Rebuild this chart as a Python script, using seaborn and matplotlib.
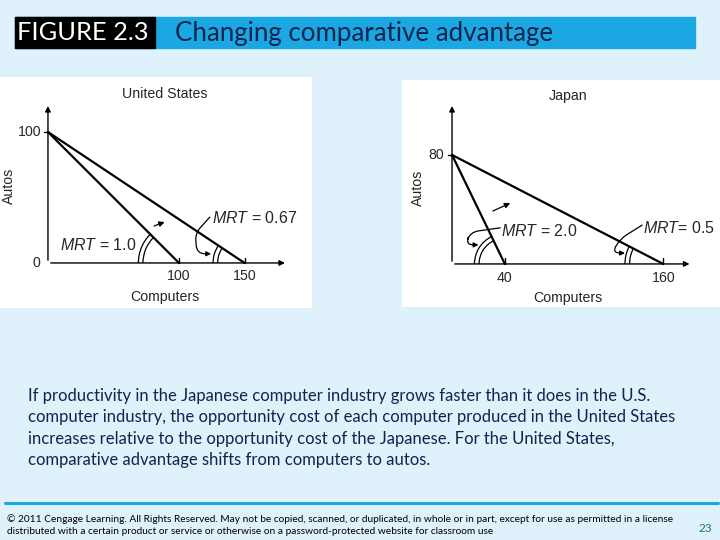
import numpy as np
import pandas as pd
import matplotlib
matplotlib.use("Agg")
import matplotlib.pyplot as plt
from matplotlib.patches import Arc, Rectangle
import seaborn as sns

# data
us_autos = 100
us_computers = [100, 150]          # old, new intercept
us_mrt = ["1.0", "0.67"]
jp_autos = 80
jp_computers = [40, 160]
jp_mrt = ["2.0", "0.5"]

title = "Changing comparative advantage"
fig_label = "FIGURE 2.3"
body = ("If productivity in the Japanese computer industry grows faster than it does in the U.S.\n"
        "computer industry, the opportunity cost of each computer produced in the United States\n"
        "increases relative to the opportunity cost of the Japanese. For the United States,\n"
        "comparative advantage shifts from computers to autos.")
footer = ("© 2011 Cengage Learning. All Rights Reserved. May not be copied, scanned, or duplicated, in whole or in part, except for use as permitted in a license\n"
          "distributed with a certain product or service or otherwise on a password-protected website for classroom use")
page_no = "23"

sns.set_theme(style="white")
plt.rcParams["font.family"] = ["Liberation Sans", "DejaVu Sans"]
plt.rcParams["mathtext.fontset"] = "custom"
plt.rcParams["mathtext.it"] = "Liberation Sans:italic"
plt.rcParams["mathtext.rm"] = "Liberation Sans"

BG = "#DFF1FB"
BAR = "#1BA8E2"
NAVY = "#10244F"
LATO = ["Lato", "DejaVu Sans"]

fig = plt.figure(figsize=(7.2, 5.4), dpi=100)
fig.patch.set_facecolor(BG)

# title bar
fig.patches.append(Rectangle((15 / 720, 1 - 48 / 540), 680 / 720, 31 / 540,
                             transform=fig.transFigure, color=BAR, zorder=0))
fig.patches.append(Rectangle((15 / 720, 1 - 48 / 540), 140 / 720, 31 / 540,
                             transform=fig.transFigure, color="black", zorder=1))
fig.text(17 / 720, 1 - 33 / 540, fig_label, color="white", fontsize=18.3,
         family=LATO, va="center", ha="left")
fig.text(175 / 720, 1 - 33 / 540, title, color=NAVY, fontsize=18.6,
         family=LATO, va="center", ha="left")


def panel(rect, xlim, ylim, autos, comps):
    ax = fig.add_axes(rect)
    ax.set_facecolor("white")
    ax.set_xlim(*xlim)
    ax.set_ylim(*ylim)
    for s in ax.spines.values():
        s.set_visible(False)
    ax.set_xticks([])
    ax.set_yticks([])
    for c in comps:
        df = pd.DataFrame({"computers": [0, c], "autos": [autos, 0]})
        sns.lineplot(data=df, x="computers", y="autos", color="black",
                     linewidth=1.6, ax=ax, legend=False)
    ax.set_xlabel("")
    ax.set_ylabel("")
    return ax


def axes_arrows(ax, xend, ytop):
    ax.annotate("", xy=(xend, 0), xytext=(0, 0),
                arrowprops=dict(arrowstyle="-|>", color="black", lw=1, mutation_scale=8))
    ax.annotate("", xy=(0, ytop), xytext=(0, 0),
                arrowprops=dict(arrowstyle="-|>", color="black", lw=1, mutation_scale=8))


def double_arc(ax, x0, autos, r, ratio):
    ang = 180 - np.degrees(np.arctan(autos / x0 * ratio))
    for rr in (r, r - 3.5):
        ax.add_patch(Arc((x0, 0), 2 * rr, 2 * rr / ratio, theta1=ang, theta2=180,
                         color="black", lw=0.9))


def curved(ax, tip, start, armA, armB, angA=180, rad=5):
    ax.annotate("", xy=tip, xytext=start,
                arrowprops=dict(arrowstyle="-|>", color="black", lw=0.9, mutation_scale=7,
                                shrinkA=0, shrinkB=0,
                                connectionstyle=f"arc,angleA={angA},angleB=180,"
                                                f"armA={armA},armB={armB},rad={rad}"))


fs = 10.2
mfs = 11.5
# ---- United States ----
ax1 = panel([0, (540 - 308) / 540, 312 / 720, 231 / 540], (-36.6, 201.5), (-34.4, 142),
            us_autos, us_computers)
axes_arrows(ax1, 183, 122)
ax1.plot([0, -3], [us_autos, us_autos], color="black", lw=1)
for c in us_computers:
    ax1.plot([c, c], [0, 4], color="black", lw=1)
    ax1.text(c, -10, str(c), ha="center", va="center", fontsize=fs)
ax1.text(-5, us_autos, str(us_autos), ha="right", va="center", fontsize=fs)
ax1.text(-6, 0, "0", ha="right", va="center", fontsize=fs)
ax1.text(89, 129, "United States", ha="center", va="center", fontsize=fs)
ax1.text(89, -26, "Computers", ha="center", va="center", fontsize=fs)
ax1.text(-30, 59, "Autos", ha="center", va="center", rotation=90, fontsize=fs)
double_arc(ax1, us_computers[0], us_autos, 31, 1.0)
double_arc(ax1, us_computers[1], us_autos, 24, 1.0)
ax1.text(9, 14, "$MRT$ = " + us_mrt[0], ha="left", va="center", fontsize=mfs)
ax1.text(125, 34, "$MRT$ = " + us_mrt[1], ha="left", va="center", fontsize=mfs)
ax1.annotate("", xy=(91, 32), xytext=(79, 27.5),
             arrowprops=dict(arrowstyle="-|>", color="black", lw=0.9, mutation_scale=8))
curved(ax1, (124.5, 7), (123.5, 35), armA=22, armB=14, angA=228, rad=8)

# ---- Japan ----
ax2 = panel([402 / 720, (540 - 307) / 540, 318 / 720, 227 / 540], (-37.9, 203), (-31.6, 135),
            jp_autos, jp_computers)
axes_arrows(ax2, 182, 118)
ratio2 = 1.3625 / 1.32
ax2.plot([0, -3], [jp_autos, jp_autos], color="black", lw=1)
for c in jp_computers:
    ax2.plot([c, c], [0, 4], color="black", lw=1)
    ax2.text(c, -10, str(c), ha="center", va="center", fontsize=fs)
ax2.text(-6, jp_autos, str(jp_autos), ha="right", va="center", fontsize=fs)
ax2.text(88, 123, "Japan", ha="center", va="center", fontsize=fs)
ax2.text(88, -25, "Computers", ha="center", va="center", fontsize=fs)
ax2.text(-26, 56, "Autos", ha="center", va="center", rotation=90, fontsize=fs)
double_arc(ax2, jp_computers[0], jp_autos, 23, ratio2)
double_arc(ax2, jp_computers[1], jp_autos, 29, ratio2)
ax2.text(37, 24, "$MRT$ = " + jp_mrt[0], ha="left", va="center", fontsize=mfs)
ax2.text(144.5, 26.5, "$MRT$= " + jp_mrt[1], ha="left", va="center", fontsize=mfs)
ax2.annotate("", xy=(46, 45.5), xytext=(29, 38),
             arrowprops=dict(arrowstyle="-|>", color="black", lw=0.9, mutation_scale=8))
curved(ax2, (20, 14), (36.5, 26.5), armA=30, armB=13, angA=188, rad=8)
curved(ax2, (131, 8), (144, 28.5), armA=26, armB=13, angA=212, rad=8)

# body text
fig.text(28 / 720, 1 - 388 / 540, body, color=NAVY, fontsize=12,
         family=LATO, va="top", ha="left", linespacing=1.41)

# footer
fig.add_artist(plt.Line2D([5 / 720, 718 / 720], [1 - 503 / 540, 1 - 503 / 540],
                          transform=fig.transFigure, color=BAR, lw=2.2))
fig.text(7 / 720, 1 - 514 / 540, footer, color="black", fontsize=7.3,
         family=LATO, va="top", ha="left", linespacing=1.5)
fig.text(705 / 720, 1 - 529 / 540, page_no, color="#1F6E8C", fontsize=8.5,
         family=LATO, va="center", ha="center")

fig.savefig("out.png", dpi=100, facecolor=BG)
